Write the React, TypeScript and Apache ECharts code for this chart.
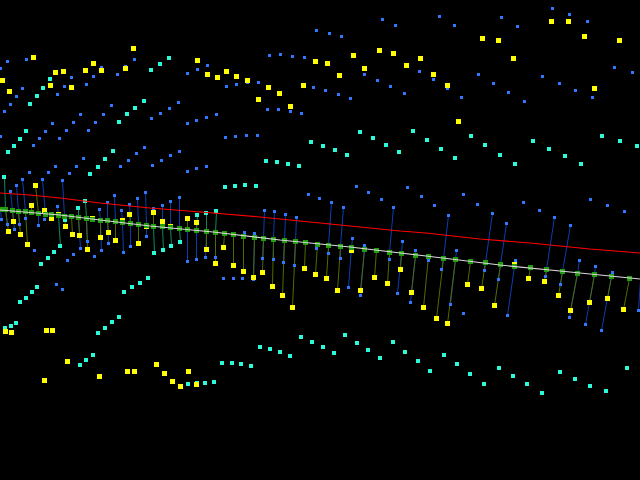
import React, { useEffect, useRef } from "react";
import * as echarts from "echarts";

type P = number[];

const redLine: P[] = [[0,193],[30,195],[60,198],[100,203],[150,208],[213,213],[260,217],[300,221],[350,226],[400,231],[426,233],[480,239],[530,243],[590,249],[640,253]];
const whiteLine: P[] = [[0,210],[60,215],[100,220],[150,226],[213,232],[280,240],[350,247],[426,256],[500,265],[560,271],[640,279]];

const greenPoints: P[] = [[0,209],[5,209],[12,210],[18,211],[25,211],[31,212],[38,213],[45,214],[51,214],[58,215],[64,216],[71,216],[78,217],[86,218],[92,219],[100,220],[107,220],[115,221],[122,222],[130,223],[138,224],[146,225],[153,226],[162,226],[170,227],[179,228],[187,229],[196,230],[206,231],[215,232],[224,233],[233,234],[243,236],[254,237],[263,238],[273,239],[284,240],[295,241],[305,242],[317,244],[328,245],[340,246],[351,247],[364,249],[376,250],[389,252],[401,253],[415,255],[428,256],[443,258],[455,259],[470,261],[485,262],[500,264],[514,266],[530,267],[546,269],[562,271],[577,273],[594,274],[611,276],[629,278]];

// [point x, point y, foot x, foot y]
const blueStems: P[] = [
[10,191,12,210],[22,179,25,211],[16,185,18,211],[42,179,45,214],[62,180,64,216],[1,219,0,209],[7,224,5,209],[14,229,12,210],[19,224,18,211],[25,218,25,211],[38,225,38,213],[44,219,45,214],
[57,206,58,215],[80,248,78,217],[87,241,86,218],[99,209,100,220],[101,250,100,220],[107,202,107,220],[108,243,107,220],[114,195,115,221],[121,210,122,222],[123,252,122,222],[129,204,130,223],[130,246,130,223],[137,198,138,224],[145,192,146,225],[146,236,146,225],[153,208,153,226],[162,205,162,226],[170,201,170,227],[179,197,179,228],[187,261,187,229],[196,259,196,230],[205,257,206,231],
[215,257,215,232],[244,232,243,236],[254,233,254,237],[253,279,254,237],[264,210,263,238],[262,258,263,238],[274,211,273,239],[273,259,273,239],[285,214,284,240],[283,262,284,240],[296,217,295,241],[294,265,295,241],[316,248,317,244],[331,202,328,245],[328,253,328,245],[343,207,340,246],[340,258,340,246],[352,238,351,247],[348,287,351,247],[364,245,364,249],[360,295,364,249],[393,207,389,252],[389,259,389,252],[402,241,401,253],[397,293,401,253],[415,250,415,255],[410,302,415,255],
[428,260,428,256],[448,215,443,258],[441,269,443,258],[456,250,455,259],[450,304,455,259],[492,213,485,262],[484,270,485,262],[506,223,500,264],[498,279,500,264],[515,260,514,266],[507,315,514,266],[554,217,546,269],[545,276,546,269],[570,225,562,271],[560,284,562,271],[579,260,577,273],[569,317,577,273],[595,266,594,274],[585,324,594,274],[612,272,611,276],[601,330,611,276],[638,310,640,280]
];

const yellowStems: P[] = [
[35,185,38,213],[31,205,31,212],[44,210,45,214],[13,221,12,210],[8,231,5,209],[20,234,18,211],[27,244,25,211],[51,218,51,214],[58,214,58,215],[65,226,64,216],[72,234,71,216],[79,235,78,217],[87,249,86,218],[92,218,92,219],[100,237,100,220],[108,232,107,220],[115,240,115,221],[122,220,122,222],[129,214,130,223],[138,243,138,224],[146,226,146,225],[153,212,153,226],[162,221,162,226],[170,226,170,227],[187,218,187,229],[196,222,196,230],[206,249,206,231],
[215,263,215,232],[223,247,224,233],[233,265,233,234],[243,271,243,236],[253,277,254,237],[262,272,263,238],[272,286,273,239],[282,295,284,240],[292,307,295,241],[304,268,305,242],[315,274,317,244],[326,278,328,245],[337,290,340,246],[351,250,351,247],[360,290,364,249],[374,277,376,250],[387,283,389,252],[400,269,401,253],[411,292,415,255],[423,307,428,256],
[436,318,443,258],[447,323,455,259],[467,284,470,261],[481,288,485,262],[494,305,500,264],[514,264,514,266],[528,278,530,267],[544,281,546,269],[558,295,562,271],[570,310,577,273],[589,302,594,274],[607,298,611,276],[623,309,629,278]
];

const cyanStems: P[] = [
[4,177,5,209],[78,208,78,217],[60,246,58,215],[65,220,64,216],[85,201,86,218],[154,253,153,226],[163,250,162,226],[171,246,170,227],[180,242,179,228],[197,215,196,230],[206,213,206,231],[216,211,215,232]
];

const blueFree: P[] = [[7,61],[26,59],[0,68],[71,77],[93,76],[101,67],[117,74],[125,66],[134,59],[187,73],[197,69],[207,65],[22,88],[16,96],[10,104],[4,111],[64,86],[57,94],[86,84],[111,105],[80,114],[52,123],[45,131],[39,138],[33,145],[0,136],[73,122],[66,130],[59,138],[103,114],[95,122],[88,130],[178,102],[169,108],[160,113],[151,118],[206,117],[196,120],[187,123],[144,147],[136,153],[128,160],[179,151],[170,155],[161,160],[83,158],
[316,30],[329,33],[341,36],[382,19],[395,25],[419,71],[269,55],[280,54],[292,56],[304,57],[226,86],[236,84],[247,82],[258,82],[313,87],[325,90],[338,94],[350,98],[364,74],[377,80],[390,86],[404,93],[267,109],[278,109],[290,111],[301,113],[216,114],[225,137],[235,136],[246,135],[257,135],
[439,16],[454,25],[501,17],[517,26],[552,8],[569,14],[587,21],[614,67],[632,72],[478,74],[493,83],[508,92],[524,101],[542,76],[559,83],[575,90],[592,97],[433,79],[447,88],[461,97],
[55,166],[76,166],[29,172],[48,172],[69,173],[120,166],[152,165],[187,171],[196,168],[206,166],[34,250],[73,254],[67,260],[94,256],
[463,194],[434,205],[477,204],[523,202],[539,210],[590,199],[607,205],[624,211],[463,313],[356,186],[368,192],[381,199],[407,187],[421,196],[308,194],[319,198],[223,278],[233,278],[242,278],[62,289],[56,284]
];

const cyanFree: P[] = [[169,58],[160,64],[151,70],[50,79],[43,88],[37,96],[30,104],[144,101],[135,108],[127,114],[119,122],[26,131],[20,139],[14,146],[8,152],[113,151],[105,159],
[311,142],[323,146],[335,150],[347,155],[360,132],[373,138],[386,145],[399,152],[413,131],[427,140],[441,149],[455,158],[471,136],[485,145],[500,155],[533,141],[549,149],[565,156],[602,136],[620,141],[637,146],
[266,161],[277,162],[288,164],[299,166],[225,187],[235,186],[245,185],[256,186],[98,167],[90,174],[54,252],[48,258],[41,264],[515,164],[581,164],
[20,302],[26,298],[32,292],[37,287],[5,328],[11,326],[16,323],[124,292],[132,287],[140,283],[148,278],[98,333],[105,328],[112,322],[119,317],[80,365],[86,360],[93,355],[188,384],[197,383],[205,383],[214,382],[222,363],[232,363],[241,364],[251,366],[260,347],[270,349],[280,352],[290,356],[301,337],[312,342],
[323,347],[334,353],[345,335],[357,343],[368,350],[380,358],[393,342],[405,352],[418,361],[430,371],[444,355],[457,364],[470,374],[484,384],[499,368],[513,376],[527,384],[542,393],[560,372],[575,379],[590,386],[606,391],[627,368]
];

const yellowFree: P[] = [[33,57],[133,48],[55,72],[63,71],[2,80],[9,91],[50,85],[71,87],[85,70],[93,63],[101,70],[125,68],[197,60],[207,74],
[217,77],[226,71],[236,76],[247,80],[268,87],[279,93],[258,99],[303,85],[315,61],[327,63],[339,75],[290,106],[353,55],[364,68],[379,50],[393,53],[406,65],[420,58],
[433,74],[447,85],[458,121],[482,38],[498,40],[513,58],[551,21],[568,21],[584,36],[619,40],[594,88],
[5,331],[11,332],[46,330],[52,330],[44,380],[67,361],[99,376],[127,371],[134,371],[156,364],[164,373],[172,381],[180,386],[188,371],[196,384]
];

const BG = "#000000";
const BLUE = "#2f78ff";
const CYAN = "#2cfbd9";
const YELLOW = "#ffff00";
const GREEN = "#1f9e0c";
const BLUE_STEM = "#0c3db0";
const YELLOW_STEM = "#4f6b00";
const CYAN_STEM = "#0c8a5c";

const stemSeries = (data: P[], color: string, z: number) => ({
  type: "custom",
  silent: true,
  clip: false,
  z,
  encode: { x: [0, 2], y: [1, 3] },
  data,
  renderItem: (_: any, api: any) => {
    const a = api.coord([api.value(0) + 0.5, api.value(1) + 0.5]);
    const b = api.coord([api.value(2) + 0.5, api.value(3) + 0.5]);
    return {
      type: "line",
      shape: { x1: a[0], y1: a[1], x2: b[0], y2: b[1] },
      style: { stroke: color, lineWidth: 1, fill: "none" },
    };
  },
});

const pointSeries = (data: P[], color: string, size: number, z: number, off: number) => ({
  type: "scatter",
  silent: true,
  z,
  symbol: "rect",
  symbolSize: size,
  itemStyle: { color, opacity: 1 },
  data: data.map((p) => [p[0] + off, p[1] + off]),
});

const lineSeries = (data: P[], color: string, width: number, z: number) => ({
  type: "line",
  silent: true,
  z,
  symbol: "none",
  data,
  lineStyle: { color, width },
});

export default function App() {
  const ref = useRef<HTMLDivElement>(null);
  useEffect(() => {
    document.body.style.margin = "0";
    document.body.style.background = BG;
    const chart = echarts.init(ref.current!, undefined, { renderer: "svg" });
    chart.setOption({
      animation: false,
      backgroundColor: BG,
      grid: { left: 0, right: 0, top: 0, bottom: 0 },
      xAxis: { type: "value", min: 0, max: 640, show: false },
      yAxis: { type: "value", min: 0, max: 480, inverse: true, show: false },
      series: [
        stemSeries(blueStems, BLUE_STEM, 1),
        stemSeries(cyanStems, CYAN_STEM, 2),
        stemSeries(yellowStems, YELLOW_STEM, 3),
        pointSeries([...blueFree, ...blueStems], BLUE, 3, 4, 0.5),
        pointSeries([...cyanFree, ...cyanStems], CYAN, 4, 5, 0),
        pointSeries([...yellowFree, ...yellowStems], YELLOW, 5, 6, 0.5),
        pointSeries(greenPoints, GREEN, 5, 7, 0.5),
        lineSeries(whiteLine, "#d9d9d9", 1.2, 8),
        lineSeries(redLine, "#ff0000", 1.2, 9),
      ],
    });
    return () => chart.dispose();
  }, []);
  return <div ref={ref} style={{ position: "fixed", left: 0, top: 0, width: 640, height: 480 }} />;
}
